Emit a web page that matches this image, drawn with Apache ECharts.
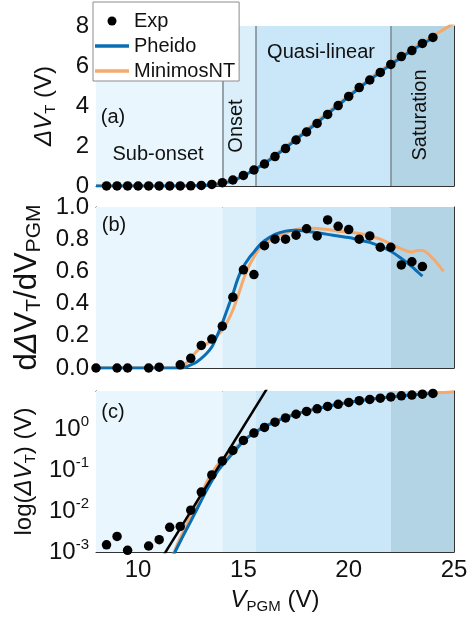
<!DOCTYPE html>
<html>
<head>
<meta charset="utf-8">
<script src="https://cdn.jsdelivr.net/npm/echarts@6/dist/echarts.min.js"></script>
<style>
html,body{margin:0;padding:0;background:#fff;}
#chart{width:476px;height:617px;}
</style>
</head>
<body>
<div id="chart"></div>
<script>
// ---------------- data ----------------
const expVpgm = [8.5, 9, 9.5, 10, 10.5, 11, 11.5, 12, 12.5, 13, 13.5, 14, 14.5, 15, 15.5, 16, 16.5, 17, 17.5, 18, 18.5, 19, 19.5, 20, 20.5, 21, 21.5, 22, 22.5, 23, 23.5, 24];
const expDVT = [0.0015, 0.0024, 0.0011, 0, 0.0014, 0.002, 0.004, 0.0042, 0.0105, 0.029, 0.076, 0.167, 0.30, 0.53, 0.80, 1.1, 1.47, 1.87, 2.3, 2.7, 3.13, 3.58, 4.02, 4.48, 4.92, 5.3, 5.68, 6.08, 6.47, 6.77, 7.13, 7.43];

const derivVpgm = [8, 9, 9.5, 10.5, 11, 12, 12.5, 13, 13.5, 14, 14.5, 15, 15.5, 16, 16.5, 17, 17.5, 18, 18.5, 19, 19.5, 20, 20.5, 21, 21.5, 22, 22.5, 23, 23.5];
const derivExp = [0, 0, 0, 0, 0.005, 0.02, 0.06, 0.14, 0.18, 0.26, 0.44, 0.61, 0.58, 0.76, 0.80, 0.80, 0.825, 0.865, 0.82, 0.92, 0.88, 0.86, 0.80, 0.82, 0.75, 0.75, 0.64, 0.66, 0.63];

const modelVpgm = [8, 11, 11.5, 11.75, 12, 12.25, 12.5, 12.75, 13, 13.25, 13.5, 13.75, 14, 14.5, 15, 15.5, 16, 16.5, 17, 17.5, 18, 18.5, 19, 19.5, 20, 20.5, 21, 21.5, 22, 22.5, 23, 23.5, 24, 24.5, 25];
const pheidoDVT = [1e-6, 1.8e-4, 5.6e-4, 0.001, 0.0018, 0.0032, 0.0056, 0.01, 0.018, 0.032, 0.054, 0.089, 0.13, 0.26, 0.51, 0.8, 1.13, 1.5, 1.9, 2.32, 2.74, 3.16, 3.6, 4.03, 4.47, 4.9, 5.3, 5.69, 6.07, 6.44, 6.78, 7.1, 7.4, null, null];
const minimosDVT = [1e-6, 1.2e-4, 5e-4, 0.0011, 0.0022, 0.004, 0.0075, 0.014, 0.027, 0.05, 0.083, 0.13, 0.18, 0.31, 0.52, 0.81, 1.15, 1.55, 1.97, 2.39, 2.82, 3.25, 3.68, 4.11, 4.53, 4.95, 5.36, 5.76, 6.14, 6.5, 6.85, 7.18, 7.5, 7.82, 8.14];

const derivModelVpgm = [8, 12, 12.25, 12.5, 12.75, 13, 13.25, 13.5, 13.75, 14, 14.25, 14.5, 14.75, 15, 15.25, 15.5, 15.75, 16, 16.5, 17, 17.5, 18, 18.5, 19, 19.5, 20, 20.5, 21, 21.5, 22, 22.5, 23, 23.25, 23.5, 24, 24.5];
const pheidoDeriv = [0, 0, 0.005, 0.02, 0.035, 0.06, 0.09, 0.13, 0.2, 0.28, 0.37, 0.46, 0.56, 0.63, 0.68, 0.72, 0.76, 0.79, 0.83, 0.85, 0.856, 0.85, 0.84, 0.83, 0.82, 0.81, 0.795, 0.78, 0.755, 0.725, 0.68, 0.63, 0.60, 0.57, null, null];
const minimosDeriv = [0, 0, 0.025, 0.06, 0.1, 0.13, 0.15, 0.17, 0.2, 0.235, 0.29, 0.36, 0.45, 0.55, 0.63, 0.69, 0.74, 0.77, 0.81, 0.84, 0.86, 0.87, 0.867, 0.86, 0.85, 0.845, 0.835, 0.82, 0.8, 0.77, 0.74, 0.72, 0.73, 0.73, 0.68, 0.60];

const fitVpgm = [11.0, 16.5];
const fitDVT = [5.6e-4, 20];

const regionEdges = [8, 14, 15.6, 22, 25];
const regionColors = ['#eaf6fd', '#dbeffb', '#c9e7f9', '#b3d4e5'];
const regionNames = ['Sub-onset', 'Onset', 'Quasi-linear', 'Saturation'];

const xTickValues = [10, 12.5, 15, 17.5, 20, 22.5];
const xLabelValues = [10, 15, 20, 25];
const xGridValues = [10, 15, 20];

// ---------------- style ----------------
const FONT = 'Liberation Sans, Arial, sans-serif';
const FRAME = '#333';
const TXT = '#111';
const BLUE = '#0a6eb4';
const ORANGE = '#f5a96c';
const GRIDC = '#a9a9a9';

const grids = [
  {left: 96, right: 22, top: 26, height: 160},
  {left: 96, right: 22, top: 207, height: 161},
  {left: 96, right: 22, top: 391, height: 161}
];

const pair = (xs, ys) => xs.map((x, i) => [x, ys[i]]);

const mkRich = (big, small) => ({
  i: {fontStyle: 'italic', fontSize: big, fontFamily: FONT, color: TXT, lineHeight: big + 4},
  sub: {fontSize: small, fontFamily: FONT, color: TXT, verticalAlign: 'bottom', lineHeight: small - 1},
  n: {fontSize: big, fontFamily: FONT, color: TXT, lineHeight: big + 4}
});

const xAxes = [];
const yAxes = [];
grids.forEach((g, gi) => {
  const common = {gridIndex: gi, type: 'value', min: 8, max: 25};
  xAxes.push(Object.assign({}, common, {
    position: 'bottom',
    axisLine: {show: true, onZero: false, lineStyle: {color: FRAME, width: 1}},
    axisTick: {show: true, inside: true, length: 5, customValues: xTickValues, lineStyle: {color: FRAME}},
    axisLabel: {show: gi === 2, customValues: xLabelValues, fontSize: 24, color: TXT, fontFamily: FONT, margin: 6},
    splitLine: {show: false},
    name: gi === 2 ? '{i|V}{sub|PGM}{n| (V)}' : '',
    nameLocation: 'middle',
    nameGap: 34,
    nameTextStyle: {fontSize: 24, color: TXT, fontFamily: FONT, rich: mkRich(24, 15)}
  }));
  xAxes.push(Object.assign({}, common, {
    position: 'top',
    axisLine: {show: true, onZero: false, lineStyle: {color: FRAME, width: 1}},
    axisTick: {show: true, inside: true, length: 5, customValues: xTickValues, lineStyle: {color: FRAME}},
    axisLabel: {show: false},
    splitLine: {show: false}
  }));
  xAxes.push(Object.assign({}, common, {
    position: 'bottom',
    axisLine: {show: false, onZero: false},
    axisTick: {show: false, customValues: xGridValues},
    axisLabel: {show: false},
    splitLine: {show: true, lineStyle: {color: GRIDC, type: [2, 2], width: 1}}
  }));
});

const yNames = [
  '{i|ΔV}{sub|T}{n| (V)}',
  '{n|d}{i|Δ}{n|V}{sub|T}{n|/dV}{sub|PGM}',
  '{n|log(}{i|ΔV}{sub|T}{n|) (V)}'
];
const yNameFont = [[24, 15], [31, 21], [24, 15]];
const yGaps = [38, 34, 27];
const logFmt = v => {
  const e = Math.log10(v);
  const r = Math.round(e);
  if (Math.abs(e - r) > 1e-6) return '';
  return '{b|10}{sup|' + r + '}';
};
const yCfg = [
  {type: 'value', min: 0, max: 8, interval: 2, fmt: v => String(v)},
  {type: 'value', min: 0, max: 1, interval: 0.2, fmt: v => v.toFixed(1)},
  {type: 'log', min: 0.001, max: 8.5, logBase: 10, fmt: logFmt}
];
grids.forEach((g, gi) => {
  const c = yCfg[gi];
  const base = {gridIndex: gi, type: c.type, min: c.min, max: c.max};
  if (c.interval) base.interval = c.interval;
  if (c.logBase) base.logBase = c.logBase;
  yAxes.push(Object.assign({}, base, {
    position: 'left',
    axisLine: {show: true, onZero: false, lineStyle: {color: FRAME, width: 1}},
    axisTick: {show: true, inside: true, length: 5, lineStyle: {color: FRAME}},
    axisLabel: {show: true, fontSize: 24, color: TXT, fontFamily: FONT, margin: 7, formatter: c.fmt,
      rich: {b: {fontSize: 24, fontFamily: FONT, color: TXT, lineHeight: 30},
             sup: {fontSize: 15, fontFamily: FONT, color: TXT, verticalAlign: 'top', lineHeight: 16}}},
    minorTick: {show: false},
    splitLine: {show: true, lineStyle: {color: GRIDC, type: [2, 2], width: 1}},
    name: yNames[gi],
    nameLocation: 'middle',
    nameRotate: 90,
    nameGap: yGaps[gi],
    nameTextStyle: {fontSize: yNameFont[gi][0], color: TXT, fontFamily: FONT, rich: mkRich(yNameFont[gi][0], yNameFont[gi][1])}
  }));
  yAxes.push(Object.assign({}, base, {
    position: 'right',
    axisLine: {show: true, onZero: false, lineStyle: {color: FRAME, width: 1}},
    axisTick: {show: true, inside: true, length: 5, lineStyle: {color: FRAME}},
    axisLabel: {show: false},
    splitLine: {show: false}
  }));
});

const series = [];
grids.forEach((g, gi) => {
  const xi = gi * 3, yi = gi * 2;
  const areas = [];
  for (let k = 0; k < regionColors.length; k++) {
    areas.push([{xAxis: regionEdges[k], itemStyle: {color: regionColors[k]}}, {xAxis: regionEdges[k + 1]}]);
  }
  const shade = {
    type: 'line', name: 'bg' + gi, xAxisIndex: xi, yAxisIndex: yi, data: [], silent: true, z: -5,
    markArea: {silent: true, data: areas, label: {show: false}}
  };
  if (gi === 0) {
    shade.markLine = {
      silent: true, symbol: 'none', label: {show: false},
      lineStyle: {color: '#7d8890', width: 1.5, type: 'solid'},
      data: regionEdges.slice(1, 4).map(v => ({xAxis: v}))
    };
  }
  series.push(shade);
});

const DOT = 9.5;
// panel (a)
series.push({type: 'line', name: 'MinimosNT', xAxisIndex: 0, yAxisIndex: 0, data: pair(modelVpgm, minimosDVT),
  symbol: 'none', smooth: 0.2, lineStyle: {color: ORANGE, width: 3}, itemStyle: {color: ORANGE}, z: 3});
series.push({type: 'line', name: 'Pheido', xAxisIndex: 0, yAxisIndex: 0, data: pair(modelVpgm, pheidoDVT),
  symbol: 'none', smooth: 0.2, lineStyle: {color: BLUE, width: 3}, itemStyle: {color: BLUE}, z: 4});
series.push({type: 'scatter', name: 'Exp', xAxisIndex: 0, yAxisIndex: 0, data: pair(expVpgm, expDVT),
  symbol: 'circle', symbolSize: DOT, itemStyle: {color: '#000', opacity: 1}, clip: false, z: 6});

// panel (b)
series.push({type: 'line', name: 'MinimosNT', xAxisIndex: 3, yAxisIndex: 2, data: pair(derivModelVpgm, minimosDeriv),
  symbol: 'none', smooth: 0.3, lineStyle: {color: ORANGE, width: 3}, itemStyle: {color: ORANGE}, z: 3});
series.push({type: 'line', name: 'Pheido', xAxisIndex: 3, yAxisIndex: 2, data: pair(derivModelVpgm, pheidoDeriv),
  symbol: 'none', smooth: 0.3, lineStyle: {color: BLUE, width: 3}, itemStyle: {color: BLUE}, z: 4});
series.push({type: 'scatter', name: 'Exp', xAxisIndex: 3, yAxisIndex: 2, data: pair(derivVpgm, derivExp),
  symbol: 'circle', symbolSize: DOT, itemStyle: {color: '#000', opacity: 1}, clip: false, z: 6});

// panel (c)
series.push({type: 'line', name: 'MinimosNT', xAxisIndex: 6, yAxisIndex: 4, data: pair(modelVpgm, minimosDVT),
  symbol: 'none', smooth: 0.2, lineStyle: {color: ORANGE, width: 3}, itemStyle: {color: ORANGE}, z: 3, clip: true});
series.push({type: 'line', name: 'Pheido', xAxisIndex: 6, yAxisIndex: 4, data: pair(modelVpgm, pheidoDVT),
  symbol: 'none', smooth: 0.2, lineStyle: {color: BLUE, width: 3}, itemStyle: {color: BLUE}, z: 4, clip: true});
series.push({type: 'line', name: 'fit', xAxisIndex: 6, yAxisIndex: 4, data: pair(fitVpgm, fitDVT),
  symbol: 'none', lineStyle: {color: '#000', width: 2.5}, itemStyle: {color: '#000'}, z: 5, clip: true});
series.push({type: 'scatter', name: 'Exp', xAxisIndex: 6, yAxisIndex: 4,
  data: pair(expVpgm, expDVT).filter(p => p[1] > 0),
  symbol: 'circle', symbolSize: DOT, itemStyle: {color: '#000', opacity: 1}, clip: false, z: 6});

const txt = (text, x, y, rot) => ({
  type: 'text', x: x, y: y, rotation: rot ? Math.PI / 2 : 0, z: 50, silent: true,
  style: {text: text, font: '20px ' + FONT, fill: TXT, align: 'center', verticalAlign: 'middle'}
});

const LINE_ICON = 'path://M0,0H40V4H0Z';
const option = {
  animation: false,
  backgroundColor: '#fff',
  grid: grids,
  xAxis: xAxes,
  yAxis: yAxes,
  legend: {
    orient: 'vertical', left: 93, top: 2, z: 20,
    padding: [9, 4, 0, 2], itemGap: 5, itemWidth: 34, itemHeight: 9,
    backgroundColor: '#fff', borderColor: '#8c8c8c', borderWidth: 1,
    textStyle: {fontSize: 20, color: TXT, fontFamily: FONT},
    data: [
      {name: 'Exp', icon: 'circle', itemStyle: {color: '#000', opacity: 1}},
      {name: 'Pheido', icon: LINE_ICON, itemStyle: {color: BLUE}},
      {name: 'MinimosNT', icon: LINE_ICON, itemStyle: {color: ORANGE}}
    ]
  },
  graphic: [
    txt('(a)', 113, 117),
    txt('(b)', 114, 225),
    txt('(c)', 113, 412),
    txt(regionNames[0], 158, 154),
    txt(regionNames[1], 236, 126, true),
    txt(regionNames[2], 321, 52),
    txt(regionNames[3], 420, 115, true)
  ],
  series: series
};

const chart = echarts.init(document.getElementById('chart'), null, {renderer: 'canvas'});
chart.setOption(option);
</script>
</body>
</html>
